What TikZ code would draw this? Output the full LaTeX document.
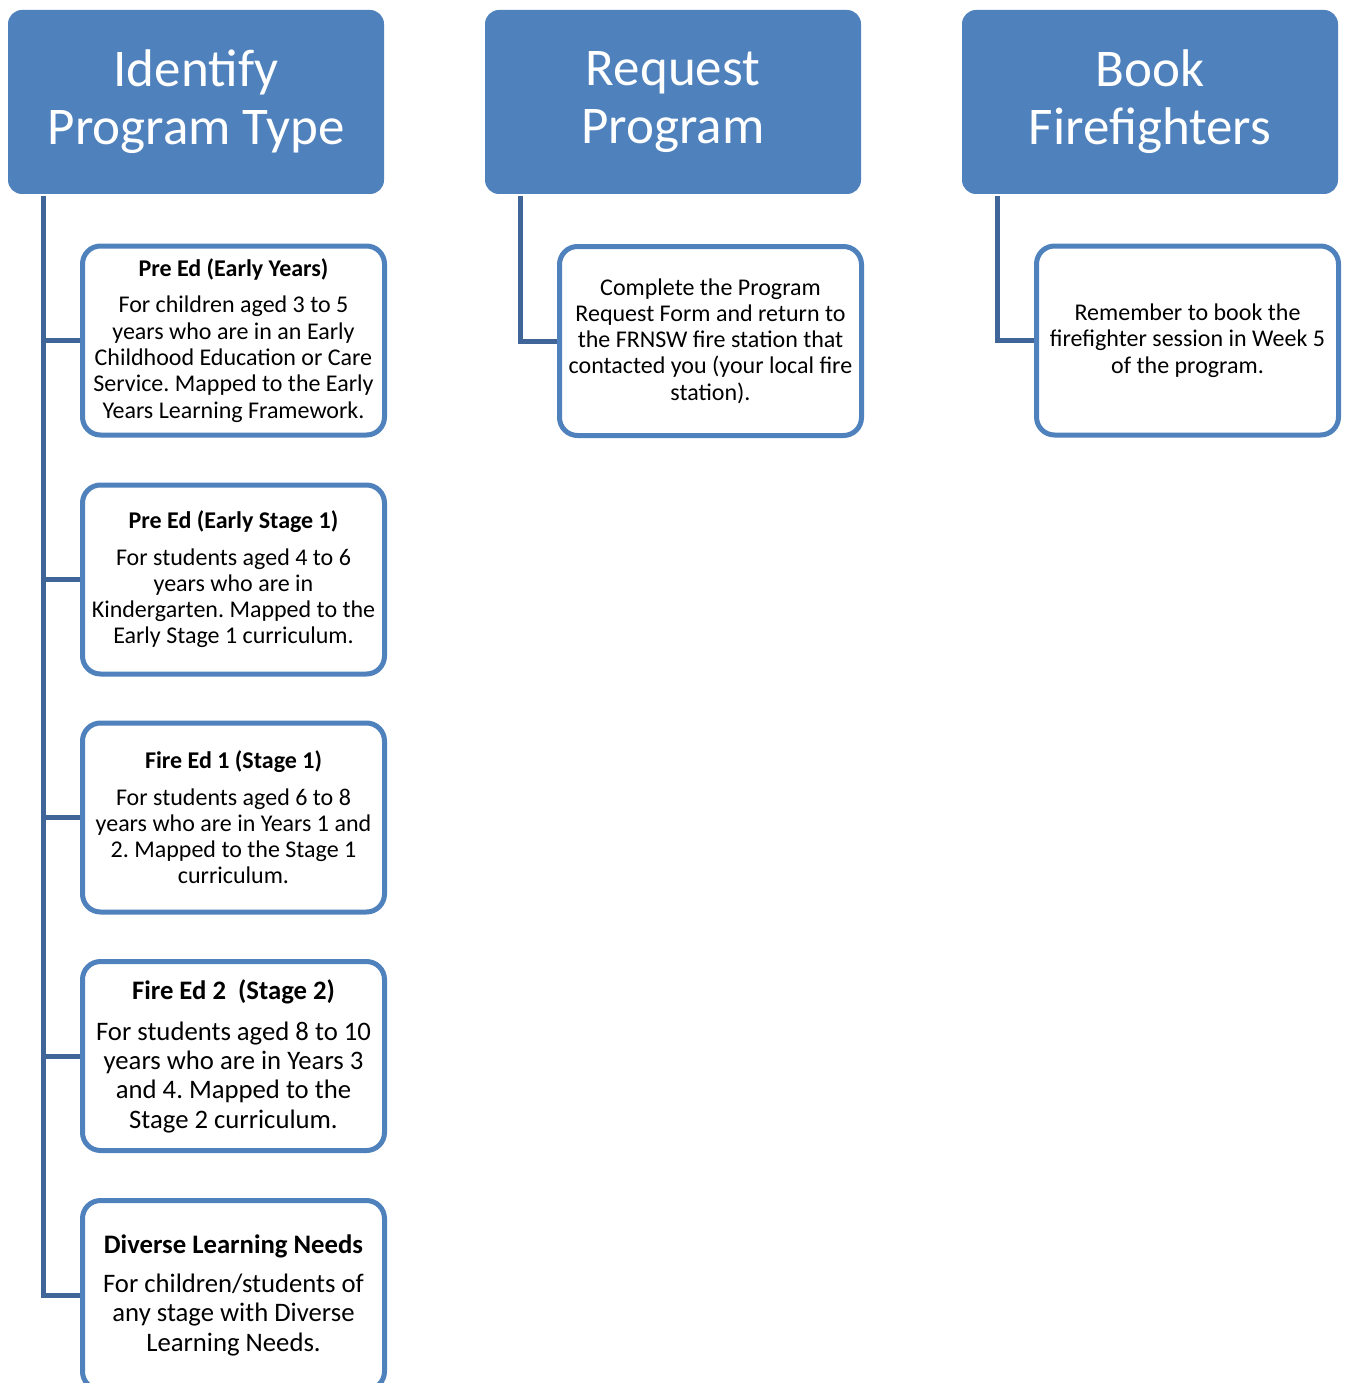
\documentclass[tikz,border=0pt]{standalone}
\usepackage{fontspec}
\setmainfont{Carlito}
\usetikzlibrary{backgrounds}
\definecolor{accent}{HTML}{4F81BD}
\definecolor{connc}{HTML}{3F6599}
\tikzset{
  headbox/.style={fill=accent, rounded corners=14pt, minimum width=376pt, minimum height=184pt,
    text=white, align=center, font=\fontsize{53}{58}\selectfont, inner sep=0pt},
  childbox/.style={draw=accent, fill=white, line width=5pt, rounded corners=18pt,
    minimum width=302pt, minimum height=189pt, align=center, inner sep=0pt,
    font=\fontsize{24}{26.3}\selectfont},
  bigtext/.style={font=\fontsize{26.7}{29.3}\selectfont},
  conn/.style={draw=connc, line width=5pt}
}
\begin{document}
\frenchspacing
\begin{tikzpicture}[x=1pt, y=-1pt]
\clip (0,0) rectangle (1351,1383);

\node[headbox] (h1) at (196,102) {Identify\\Program Type};
\node[headbox] (h2) at (673,102) {Request\\Program};
\node[headbox] (h3) at (1150,102) {Book\\Firefighters};

\node[childbox] (a1) at (233.5,340.5) {\textbf{Pre Ed (Early Years)}\\[10pt]For children aged 3 to 5\\years who are in an Early\\Childhood Education or Care\\Service. Mapped to the Early\\Years Learning Framework.};
\node[childbox] (a2) at (233.5,579.5) {\textbf{Pre Ed (Early Stage 1)}\\[10pt]For students aged 4 to 6\\years who are in\\Kindergarten. Mapped to the\\Early Stage 1 curriculum.};
\node[childbox] (a3) at (233.5,817.5) {\textbf{Fire Ed 1 (Stage 1)}\\[10pt]For students aged 6 to 8\\years who are in Years 1 and\\2. Mapped to the Stage 1\\curriculum.};
\node[childbox, bigtext] (a4) at (233.5,1056) {\textbf{Fire Ed 2\ \ (Stage 2)}\\[12pt]For students aged 8 to 10\\years who are in Years 3\\and 4. Mapped to the\\Stage 2 curriculum.};
\node[childbox, bigtext] (a5) at (233.5,1295) {\textbf{Diverse Learning Needs}\\[10pt]For children/students of\\any stage with Diverse\\Learning Needs.};

\node[childbox] (b1) at (710.5,341) {Complete the Program\\Request Form and return to\\the FRNSW fire station that\\contacted you (your local fire\\station).};
\node[childbox] (c1) at (1187.5,340.5) {Remember to book the\\firefighter session in Week 5\\of the program.};

\coordinate (t1) at (43,196);
\coordinate (t2) at (520,196);
\coordinate (t3) at (997,196);

\begin{pgfonlayer}{background}
\draw[conn] (t1) |- (a1.west);
\draw[conn] (t1) |- (a2.west);
\draw[conn] (t1) |- (a3.west);
\draw[conn] (t1) |- (a4.west);
\draw[conn] (t1) |- (a5.west);
\draw[conn] (t2) |- (b1.west);
\draw[conn] (t3) |- (c1.west);
\end{pgfonlayer}
\end{tikzpicture}
\end{document}
